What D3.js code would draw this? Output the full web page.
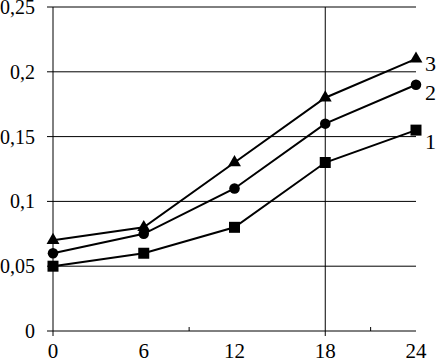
<!DOCTYPE html>
<html>
<head>
<meta charset="utf-8">
<script src="https://cdn.jsdelivr.net/npm/d3@7"></script>
<style>
  body { margin: 0; background: #fff; }
  text { font-family: 'Liberation Serif', serif; }
</style>
</head>
<body>
<svg width="437" height="363"></svg>
<script>
const hours = [0, 6, 12, 18, 24]
const yTicks = [0, 0.05, 0.1, 0.15, 0.2, 0.25]
const minorX = [9, 21]
const series1 = [0.05, 0.06, 0.08, 0.13, 0.155]
const series2 = [0.06, 0.075, 0.11, 0.16, 0.19]
const series3 = [0.07, 0.08, 0.13, 0.18, 0.21]
const seriesNames = ['1', '2', '3']

const svg = d3.select('svg')

const x = d3.scaleLinear().domain([0, 24]).range([53, 416])
const y = d3.scaleLinear().domain([0, 0.25]).range([331, 7])

const fmt = d => d === 0 ? '0' : String(+d.toFixed(2)).replace('.', ',')

// horizontal grid
svg.append('g').selectAll('line')
  .data(yTicks)
  .enter().append('line')
    .attr('x1', 47).attr('x2', x(24))
    .attr('y1', d => y(d)).attr('y2', d => y(d))
    .attr('stroke', '#000').attr('stroke-width', 1)

// y axis line and vertical line at 18
svg.append('line')
  .attr('x1', x(0)).attr('x2', x(0))
  .attr('y1', y(0.25)).attr('y2', y(0) + 5)
  .attr('stroke', '#000')
svg.append('line')
  .attr('x1', x(18)).attr('x2', x(18))
  .attr('y1', y(0.25)).attr('y2', y(0) + 5)
  .attr('stroke', '#000')

// small ticks on x axis
svg.append('g').selectAll('line')
  .data(minorX)
  .enter().append('line')
    .attr('x1', d => x(d)).attr('x2', d => x(d))
    .attr('y1', y(0)).attr('y2', y(0) - 4)
    .attr('stroke', '#000')

// labels
svg.append('g').selectAll('text')
  .data(yTicks)
  .enter().append('text')
    .attr('x', 35).attr('y', d => y(d) + 7)
    .attr('text-anchor', 'end')
    .style('font-size', '20px')
    .text(fmt)

svg.append('g').selectAll('text')
  .data(hours)
  .enter().append('text')
    .attr('x', d => x(d)).attr('y', 358)
    .attr('text-anchor', 'middle')
    .style('font-size', '21px')
    .text(d => d)

const line = d3.line().x((d, i) => x(hours[i])).y(d => y(d))
const allSeries = [series1, series2, series3]

allSeries.forEach((s, k) => {
  svg.append('path')
    .attr('d', line(s))
    .attr('fill', 'none')
    .attr('stroke', '#000')
    .attr('stroke-width', 2)

  const sym = [d3.symbolSquare, d3.symbolCircle, d3.symbolTriangle][k]
  const size = [121, 87, 72][k]
  svg.append('g').selectAll('path')
    .data(s)
    .enter().append('path')
      .attr('transform', (d, i) => `translate(${x(hours[i])},${y(d)})`)
      .attr('d', d3.symbol().type(sym).size(size))
      .attr('fill', '#000')
})

// series labels
const labelPos = [[425, series1[4], 19], [425, series2[4], 15], [425, series3[4], 12]]
labelPos.forEach((p, k) => {
  svg.append('text')
    .attr('x', p[0]).attr('y', y(p[1]) + p[2])
    .style('font-size', '22px')
    .text(seriesNames[k])
})
</script>
</body>
</html>
